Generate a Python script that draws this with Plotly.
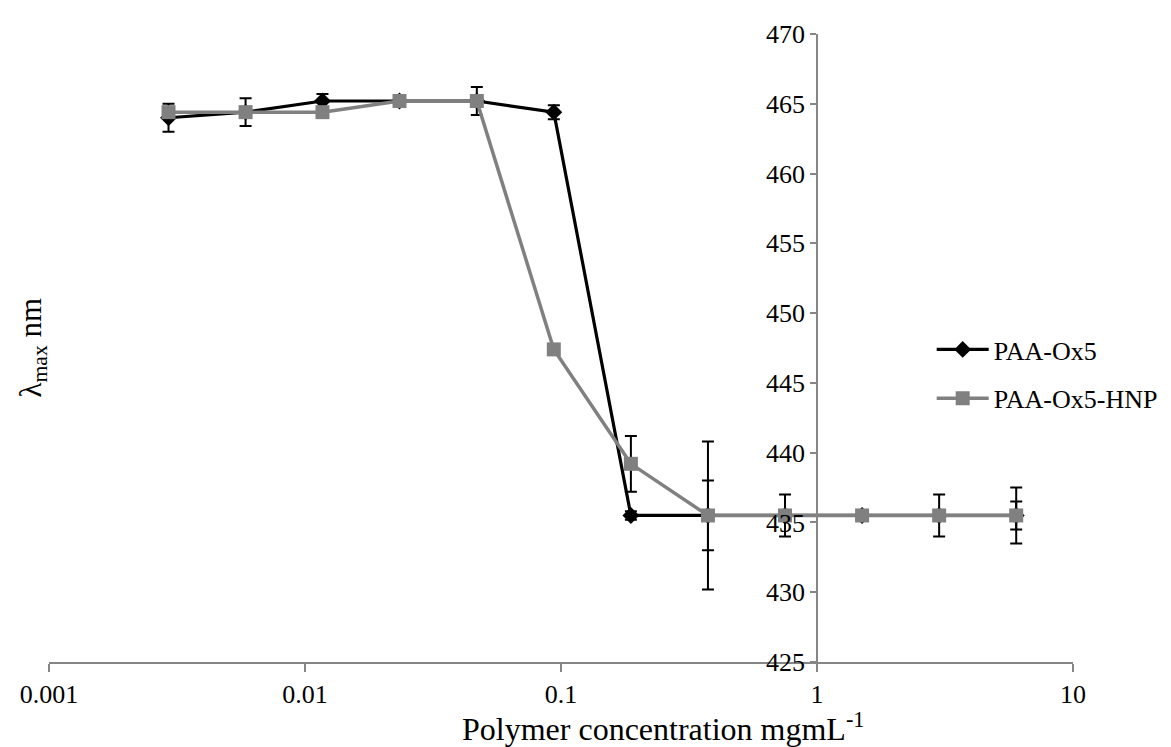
import plotly.graph_objects as go

# Data
conc = [0.00293, 0.00586, 0.0117, 0.0234, 0.0469, 0.09375, 0.1875, 0.375, 0.75, 1.5, 3, 6]
ox5 = [464.0, 464.4, 465.2, 465.2, 465.2, 464.4, 435.5, 435.5, 435.5, 435.5, 435.5, 435.5]
ox5_err = [1.0, 1.0, 0.5, 0.0, 1.0, 0.5, 0.3, 2.5, 1.5, 0.0, 1.5, 1.0]
hnp = [464.4, 464.4, 464.4, 465.2, 465.2, 447.4, 439.2, 435.5, 435.5, 435.5, 435.5, 435.5]
hnp_err = [0.3, 0.0, 0.0, 0.0, 0.0, 0.0, 2.0, 5.3, 0.0, 0.0, 0.0, 2.0]
series_names = ["PAA-Ox5", "PAA-Ox5-HNP"]
x_ticks = [0.001, 0.01, 0.1, 1, 10]
x_ticklabels = ["0.001", "0.01", "0.1", "1", "10"]
y_ticks = [425, 430, 435, 440, 445, 450, 455, 460, 465, 470]

FONT = "Liberation Serif"
AXC = "#868686"

fig = go.Figure()
fig.add_trace(go.Scatter(
    x=conc, y=ox5, name=series_names[0], mode="lines+markers", legendgroup="a",
    line=dict(color="black", width=3.2),
    marker=dict(symbol="diamond", size=13, color="black"),
    error_y=dict(type="data", array=ox5_err, color="black", thickness=2, width=6),
))
fig.add_trace(go.Scatter(
    x=conc, y=hnp, name=series_names[1], mode="lines+markers", legendgroup="b",
    line=dict(color="#808080", width=3.5),
    marker=dict(symbol="square", size=14, color="#808080"),
    error_y=dict(type="data", array=hnp_err, color="black", thickness=2, width=6),
))

# page body has an 8px margin, so offsets are compensated in the margins
fig.update_layout(
    width=1171, height=747, autosize=False,
    margin=dict(l=41, r=106, t=17, b=93),
    paper_bgcolor="white", plot_bgcolor="white",
    font=dict(family=FONT, size=26, color="black"),
    showlegend=True,
    legend=dict(x=0.862, y=0.535, xanchor="left", yanchor="top", itemwidth=52,
                font=dict(size=26), traceorder="grouped", tracegroupgap=12,
                bgcolor="rgba(0,0,0,0)"),
    xaxis=dict(type="log", range=[-3, 1], tickvals=x_ticks, ticktext=x_ticklabels,
               showgrid=False, zeroline=False, showline=True, linecolor=AXC, linewidth=1.5,
               ticks="outside", ticklen=8, tickcolor=AXC, tickwidth=1.5,
               tickfont=dict(size=26)),
    yaxis=dict(range=[425, 470], tickvals=y_ticks, anchor="free", position=0.75, side="left",
               showgrid=False, zeroline=False, showline=True, linecolor=AXC, linewidth=1.5,
               ticks="outside", ticklen=6, tickcolor=AXC, tickwidth=1.5,
               tickfont=dict(size=26)),
    annotations=[
        dict(text="λ<sub>max</sub> nm", xref="paper", yref="paper",
             x=-0.016, y=0.5, xanchor="center", yanchor="middle",
             textangle=-90, showarrow=False, font=dict(size=31)),
        dict(text="Polymer concentration mgmL<sup>-1</sup>", xref="paper", yref="paper",
             x=0.60, y=-0.104, xanchor="center", yanchor="middle",
             showarrow=False, font=dict(size=32)),
    ],
)

fig.write_html("out.html")
